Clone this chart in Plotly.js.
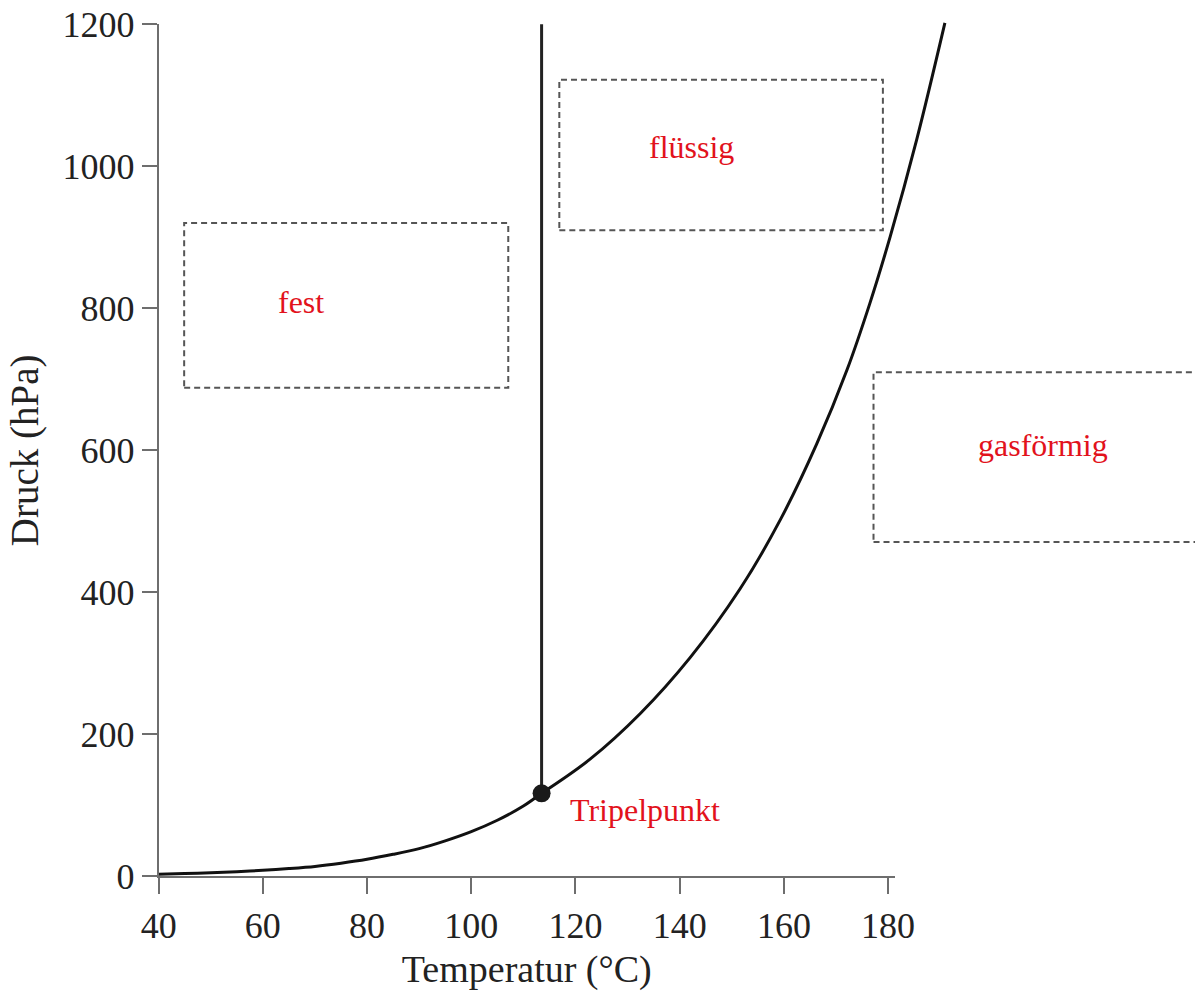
<!DOCTYPE html>
<html>
<head>
<meta charset="utf-8">
<script src="https://cdn.plot.ly/plotly-3.0.1.min.js"></script>
<style>
  html, body { margin: 0; padding: 0; background: #fff; }
  #chart { width: 1195px; height: 991px; }
</style>
</head>
<body>
<div id="chart"></div>
<script>
// Sublimation curve (solid -> gas), up to the triple point
const sublimationT = [40, 45, 50, 55, 60, 65, 70, 75, 80, 85, 90, 95, 100, 105, 110, 113.5];
const sublimationP = [3, 4, 5, 6.5, 8.5, 11, 14, 18.5, 24, 31, 39, 50, 63, 79, 99, 117];

// Vapour-pressure curve (liquid -> gas), from the triple point
const vaporT = [113.5, 122.8, 132.4, 142, 151.6, 159.3, 166.3, 172.1, 176.5, 180.4, 185.5, 190.9];
const vaporP = [117, 165, 229, 308, 405, 502, 609, 713, 807, 901, 1038, 1202];

// Melting line (solid -> liquid)
const meltT = [113.5, 113.5];
const meltP = [117, 1200];

// Triple point
const tripleT = [113.5];
const tripleP = [117];
const tripleLabel = ['Tripelpunkt'];

// Phase labels
const phaseNames = ['fest', 'flüssig', 'gasförmig'];
const phaseT = [67.4, 142.2, 209.8];
const phaseP = [809, 1027, 607];

// Axis ticks
const xTicks = [40, 60, 80, 100, 120, 140, 160, 180];
const yTicks = [0, 200, 400, 600, 800, 1000, 1200];

// Data (plotting) ranges and visible axis extents
const xRange = [37, 238.9];
const yRange = [-15, 1230];
const xAxisShown = [40, 181.3];
const yAxisShown = [0, 1200];

const serif = '"Liberation Serif", "Times New Roman", serif';
const red = 'rgb(226,18,28)';
const axisGray = '#6e6e6e';
const boxGray = '#555555';
const textColor = '#222';

const frac = (v, r) => (v - r[0]) / (r[1] - r[0]);

const traces = [
  {
    x: sublimationT, y: sublimationP, type: 'scatter', mode: 'lines',
    line: { color: '#111', width: 3, shape: 'spline', smoothing: 0.8 },
    hoverinfo: 'skip', showlegend: false
  },
  {
    x: vaporT, y: vaporP, type: 'scatter', mode: 'lines',
    line: { color: '#111', width: 3, shape: 'spline', smoothing: 1 },
    hoverinfo: 'skip', showlegend: false
  },
  {
    x: meltT, y: meltP, type: 'scatter', mode: 'lines',
    line: { color: '#222', width: 3 },
    hoverinfo: 'skip', showlegend: false
  },
  {
    x: tripleT, y: tripleP, type: 'scatter', mode: 'markers',
    marker: { color: '#1a1a1a', size: 18 },
    hoverinfo: 'skip', showlegend: false
  },
  // holder trace so that the display axes (x2/y2) are drawn; a single-point line draws nothing
  {
    x: [xAxisShown[0]], y: [yAxisShown[0]], xaxis: 'x2', yaxis: 'y2',
    type: 'scatter', mode: 'lines', line: { color: 'rgba(0,0,0,0)', width: 0 },
    hoverinfo: 'skip', showlegend: false
  }
];

const dashBox = (x0, x1, y0, y1) => ({
  type: 'rect', xref: 'x', yref: 'y', x0: x0, x1: x1, y0: y0, y1: y1,
  line: { color: boxGray, width: 2, dash: '6px,4px' }, fillcolor: 'rgba(0,0,0,0)', layer: 'below'
});

const annotations = phaseNames.map((name, i) => ({
  x: phaseT[i], y: phaseP[i], xref: 'x', yref: 'y', text: name, showarrow: false,
  font: { family: serif, size: 32, color: red }, xanchor: 'center', yanchor: 'middle'
}));
annotations.push({
  x: tripleT[0] + 5.1, y: tripleP[0] - 24, xref: 'x', yref: 'y', text: tripleLabel[0], showarrow: false,
  font: { family: serif, size: 32, color: red }, xanchor: 'left', yanchor: 'middle'
});

const layout = {
  width: 1195, height: 991,
  margin: { l: 143.1, r: 0, t: 2.7, b: 104.35 },
  paper_bgcolor: '#fff', plot_bgcolor: 'rgba(0,0,0,0)',
  font: { family: serif, color: textColor },
  // plotting axes (invisible), full width so the curve and boxes can extend right
  xaxis: { domain: [0, 1], range: xRange, visible: false, fixedrange: true },
  yaxis: { domain: [0, 1], range: yRange, visible: false, fixedrange: true },
  // display axes with ticks, lines and titles
  xaxis2: {
    domain: [frac(xAxisShown[0], xRange), frac(xAxisShown[1], xRange)],
    range: xAxisShown, anchor: 'y2',
    tickvals: xTicks, ticktext: xTicks.map(String),
    ticks: 'outside', ticklen: 16, tickwidth: 2, tickcolor: axisGray,
    showline: true, linecolor: axisGray, linewidth: 2, mirror: false,
    showgrid: false, zeroline: false,
    tickfont: { family: serif, size: 36, color: textColor },
    title: { text: 'Temperatur (°C)', font: { family: serif, size: 38, color: textColor }, standoff: 18 },
    automargin: false, fixedrange: true
  },
  yaxis2: {
    domain: [frac(yAxisShown[0], yRange), frac(yAxisShown[1], yRange)],
    range: yAxisShown, anchor: 'x2',
    tickvals: yTicks, ticktext: yTicks.map(String),
    ticks: 'outside', ticklen: 15, tickwidth: 2, tickcolor: axisGray,
    showline: true, linecolor: axisGray, linewidth: 2, mirror: false,
    showgrid: false, zeroline: false,
    tickfont: { family: serif, size: 36, color: textColor },
    title: { text: 'Druck (hPa)', font: { family: serif, size: 39, color: textColor }, standoff: 12 },
    automargin: false, fixedrange: true
  },
  shapes: [
    dashBox(44.9, 107.1, 688, 920),
    dashBox(116.9, 179.0, 910, 1122),
    dashBox(177.2, 250, 471, 710)
  ],
  annotations: annotations,
  showlegend: false
};

Plotly.newPlot('chart', traces, layout, { displayModeBar: false, staticPlot: true });
</script>
</body>
</html>
